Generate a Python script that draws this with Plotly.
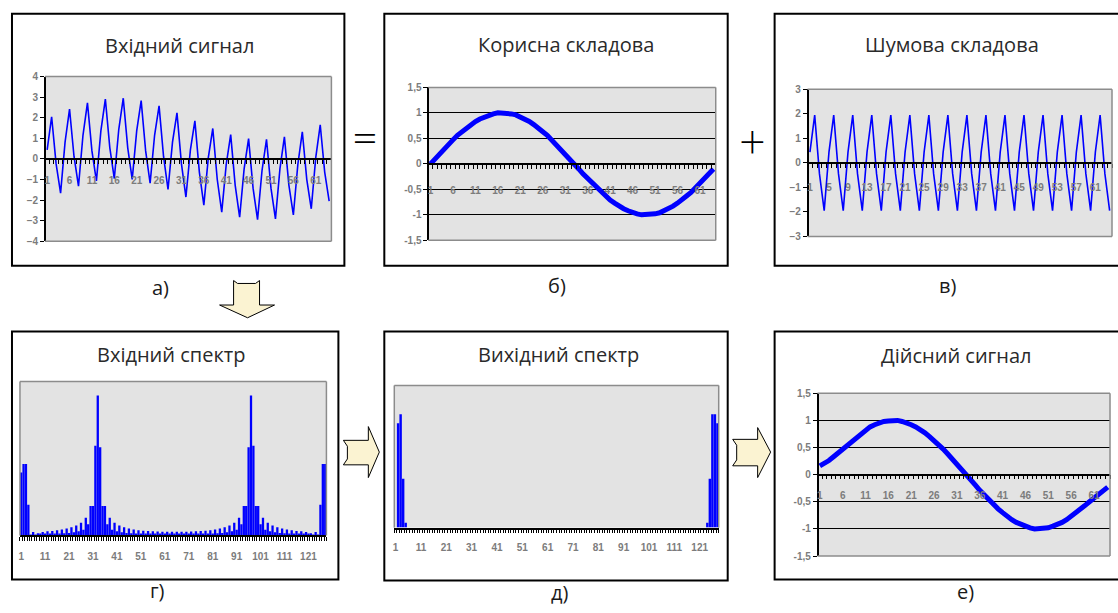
import plotly.graph_objects as go

W, H = 1118, 613


def fx(p):
    return p / W


def fy(p):
    return 1 - p / H


# ---------------- data ----------------
n64 = list(range(1, 65))
n128 = list(range(1, 129))

input_signal = [0.44, 2.05, -0.24, -1.66, 0.82, 2.42, 0.12, -1.32,
                1.15, 2.72, 0.39, -1.07, 1.36, 2.91, 0.54, -0.95,
                1.44, 2.95, 0.54, -0.99, 1.36, 2.83, 0.39, -1.18,
                1.15, 2.58, 0.12, -1.48, 0.82, 2.24, -0.24, -1.85,
                0.44, 1.85, -0.64, -2.24, 0.06, 1.48, -1.00, -2.58,
                -0.27, 1.18, -1.27, -2.83, -0.48, 0.99, -1.42, -2.95,
                -0.56, 0.95, -1.42, -2.91, -0.48, 1.07, -1.27, -2.72,
                -0.27, 1.32, -1.00, -2.42, 0.06, 1.66, -0.64, -2.05]

useful = [0.00, 0.10, 0.20, 0.29, 0.38, 0.47, 0.56, 0.63, 0.71, 0.77,
          0.83, 0.88, 0.92, 0.96, 0.98, 1.00, 1.00, 1.00, 0.98, 0.96,
          0.92, 0.88, 0.83, 0.77, 0.71, 0.63, 0.56, 0.47, 0.38, 0.29,
          0.20, 0.10, 0.00, -0.10, -0.20, -0.29, -0.38, -0.47, -0.56, -0.63,
          -0.71, -0.77, -0.83, -0.88, -0.92, -0.96, -0.98, -1.00, -1.00, -1.00,
          -0.98, -0.96, -0.92, -0.88, -0.83, -0.77, -0.71, -0.63, -0.56, -0.47,
          -0.38, -0.29, -0.20, -0.10]

noise = [0.44, 1.95, -0.44, -1.95, 0.44, 1.95, -0.44, -1.95,
         0.44, 1.95, -0.44, -1.95, 0.44, 1.95, -0.44, -1.95,
         0.44, 1.95, -0.44, -1.95, 0.44, 1.95, -0.44, -1.95,
         0.44, 1.95, -0.44, -1.95, 0.44, 1.95, -0.44, -1.95,
         0.44, 1.95, -0.44, -1.95, 0.44, 1.95, -0.44, -1.95,
         0.44, 1.95, -0.44, -1.95, 0.44, 1.95, -0.44, -1.95,
         0.44, 1.95, -0.44, -1.95, 0.44, 1.95, -0.44, -1.95,
         0.44, 1.95, -0.44, -1.95, 0.44, 1.95, -0.44, -1.95]

spectrum_in = [45, 51, 51, 22, 0.5, 2.5, 0.5, 1.5, 0.8, 2.5,
               0.8, 3.0, 1.0, 3.2, 1.0, 3.7, 1.2, 4.2, 1.5, 4.9,
               1.8, 5.8, 2.2, 7.1, 3.0, 9.1, 4.0, 12.7, 8.0, 21,
               21, 64, 100, 63, 21, 21, 8.0, 12.7, 4.0, 9.1,
               3.0, 7.1, 2.2, 5.8, 1.8, 4.9, 1.5, 4.2, 1.2, 3.7,
               1.0, 3.4, 1.0, 3.1, 0.8, 2.9, 0.8, 2.8, 0.8, 2.7,
               0.8, 2.7, 0.8, 2.7, 0.8, 2.7, 0.8, 2.7, 0.8, 2.7,
               0.8, 2.8, 0.8, 2.9, 0.8, 3.1, 1.0, 3.4, 1.0, 3.7,
               1.2, 4.2, 1.5, 4.9, 1.8, 5.8, 2.2, 7.1, 3.0, 9.1,
               4.0, 12.7, 8.0, 21, 21, 63, 100, 64, 21, 21,
               8.0, 12.7, 4.0, 9.1, 3.0, 7.1, 2.2, 5.8, 1.8, 4.9,
               1.5, 4.2, 1.2, 3.7, 1.0, 3.2, 1.0, 3.0, 0.8, 2.5,
               0.8, 1.5, 0.5, 2.5, 0.5, 22, 51, 51]

spectrum_out = ([0, 47, 51, 22, 2.2] + [0] * 118 + [2.2, 22, 51, 51, 47])

recovered = [0.16, 0.20, 0.26, 0.33, 0.40, 0.47, 0.55, 0.63, 0.70, 0.77,
             0.83, 0.88, 0.92, 0.96, 0.98, 0.99, 1.00, 1.00, 0.98, 0.96,
             0.92, 0.88, 0.83, 0.77, 0.70, 0.63, 0.55, 0.47, 0.38, 0.29,
             0.19, 0.10, 0.00, -0.10, -0.19, -0.29, -0.38, -0.47, -0.55, -0.63,
             -0.70, -0.77, -0.83, -0.88, -0.92, -0.96, -0.98, -1.00, -1.00, -0.99,
             -0.98, -0.95, -0.92, -0.88, -0.83, -0.77, -0.71, -0.64, -0.57, -0.50,
             -0.43, -0.36, -0.30, -0.23]

ticks_a = [1, 6, 11, 16, 21, 26, 31, 36, 41, 46, 51, 56, 61]
ticks_c = [1, 5, 9, 13, 17, 21, 25, 29, 33, 37, 41, 45, 49, 53, 57, 61]
ticks_spec = [1, 11, 21, 31, 41, 51, 61, 71, 81, 91, 101, 111, 121]
yticks_a = [-4, -3, -2, -1, 0, 1, 2, 3, 4]
yticks_c = [-3, -2, -1, 0, 1, 2, 3]
yticks_bf = [-1.5, -1, -0.5, 0, 0.5, 1, 1.5]
ytext_bf = ["-1,5", "-1", "-0,5", "0", "0,5", "1", "1,5"]

titles = ["Вхідний сигнал", "Корисна складова", "Шумова складова",
          "Вхідний спектр", "Вихідний спектр", "Дійсний сигнал"]
letters = ["а)", "б)", "в)", "г)", "д)", "е)"]

# ---------------- layout geometry (pixels) ----------------
PA = {
    "a": (43, 330, 72, 240),
    "b": (427, 715, 83, 239),
    "c": (807, 1112, 85, 235),
    "d": (18, 325, 383, 540),
    "e": (393, 718, 387, 532),
    "f": (817, 1110, 395, 561),
}
BOX = [(10, 343, 8, 265), (383, 727, 8, 265), (774, 1130, 8, 265),
       (10, 337, 332, 585), (383, 727, 332, 586), (774, 1130, 332, 585)]
TITLE_POS = [(178, 40), (565, 39), (952, 39), (169, 355), (557, 355), (956, 356)]
LETTER_POS = [(159, 287), (556, 285), (947, 285), (156, 596), (558, 598), (965, 597)]

tick_font = dict(family="Liberation Sans", size=10, color="#7c7c7c", weight="bold")
blue = "#0000FF"
plot_gray = "#E3E3E3"
border_gray = "#8C8C8C"

fig = go.Figure()
fig.add_trace(go.Scatter(x=n64, y=input_signal, mode="lines",
                         line=dict(color=blue, width=1.6), xaxis="x", yaxis="y"))
fig.add_trace(go.Scatter(x=n64, y=useful, mode="lines",
                         line=dict(color=blue, width=5), xaxis="x2", yaxis="y2"))
fig.add_trace(go.Scatter(x=n64, y=noise, mode="lines",
                         line=dict(color=blue, width=1.6), xaxis="x3", yaxis="y3"))
fig.add_trace(go.Bar(x=n128, y=spectrum_in, marker=dict(color=blue, line=dict(width=0)),
                     xaxis="x4", yaxis="y4"))
fig.add_trace(go.Bar(x=n128, y=spectrum_out, marker=dict(color=blue, line=dict(width=0)),
                     xaxis="x5", yaxis="y5"))
fig.add_trace(go.Scatter(x=n64, y=recovered, mode="lines",
                         line=dict(color=blue, width=5), xaxis="x6", yaxis="y6"))


def ydom(key):
    p = PA[key]
    return [fy(p[3]), fy(p[2])]


def xdom(key):
    p = PA[key]
    return [fx(p[0]), fx(p[1])]


def zero_pos(key, rng):
    d0, d1 = ydom(key)
    return d0 + (0 - rng[0]) / (rng[1] - rng[0]) * (d1 - d0)


def cat_axis(key, rng, tickvals, position=None, anchor=None, standoff=8):
    ax = dict(domain=xdom(key), range=rng, showline=True, linecolor="black",
              linewidth=1.5, tickmode="array", tickvals=tickvals, ticks="",
              showgrid=False, zeroline=False, tickfont=tick_font,
              ticklabelstandoff=standoff, fixedrange=True,
              minor=dict(ticks="outside", tickmode="linear", tick0=0.5, dtick=1,
                         ticklen=4, tickwidth=1, tickcolor="black", showgrid=False))
    if position is not None:
        ax["anchor"] = "free"
        ax["position"] = position
    else:
        ax["anchor"] = anchor
    return ax


def val_axis(key, rng, tickvals, ticktext=None, grid=False):
    ax = dict(domain=ydom(key), range=rng, anchor="free", position=fx(PA[key][0]),
              showline=True, linecolor="black", linewidth=1.5, ticks="outside",
              ticklen=4, tickcolor="black", tickmode="array", tickvals=tickvals,
              showgrid=grid, gridcolor="black", gridwidth=1, zeroline=False,
              tickfont=tick_font, fixedrange=True)
    if ticktext is not None:
        ax["ticktext"] = ticktext
    return ax


rng_a = [-4, 4]
rng_b = [-1.5, 1.5]
rng_c = [-3, 3]
rng_f = [-1.5, 1.5]

layout = dict(
    width=W, height=H, autosize=False,
    margin=dict(l=0, r=0, t=0, b=0, pad=0),
    paper_bgcolor="white", plot_bgcolor=plot_gray,
    showlegend=False, bargap=0.04,
    xaxis=cat_axis("a", [0.5, 64.5], ticks_a, position=zero_pos("a", rng_a), standoff=12),
    yaxis=val_axis("a", rng_a, yticks_a),
    xaxis2=cat_axis("b", [0.5, 64.5], ticks_a, position=zero_pos("b", rng_b), standoff=17),
    yaxis2=val_axis("b", rng_b, yticks_bf, ytext_bf, grid=True),
    xaxis3=cat_axis("c", [0.5, 64.5], ticks_c, position=zero_pos("c", rng_c), standoff=15),
    yaxis3=val_axis("c", rng_c, yticks_c),
    xaxis4=cat_axis("d", [0.5, 128.5], ticks_spec, anchor="y4", standoff=11),
    yaxis4=dict(domain=ydom("d"), range=[0, 110], anchor="x4", visible=False, fixedrange=True),
    xaxis5=cat_axis("e", [0.5, 128.5], ticks_spec, anchor="y5", standoff=10),
    yaxis5=dict(domain=ydom("e"), range=[0, 64], anchor="x5", visible=False, fixedrange=True),
    xaxis6=cat_axis("f", [0.5, 64.5], ticks_a, position=zero_pos("f", rng_f), standoff=12),
    yaxis6=val_axis("f", rng_f, yticks_bf, ytext_bf, grid=True),
)
fig.update_layout(**layout)

shapes = []


def hline(x0, x1, y, color, width):
    shapes.append(dict(type="line", xref="paper", yref="paper", x0=fx(x0), x1=fx(x1),
                       y0=fy(y), y1=fy(y), line=dict(color=color, width=width), layer="above"))


def vline(x, y0, y1, color, width):
    shapes.append(dict(type="line", xref="paper", yref="paper", x0=fx(x), x1=fx(x),
                       y0=fy(y0), y1=fy(y1), line=dict(color=color, width=width), layer="above"))


# plot-area borders (gray), leaving the black value axis visible
for key, (x0, x1, yt, yb) in PA.items():
    hline(x0, x1, yt, border_gray, 1.5)
    vline(x1, yt, yb, border_gray, 1.5)
    if key in ("d", "e"):
        vline(x0, yt, yb, border_gray, 1.5)
    else:
        hline(x0, x1, yb, border_gray, 1.5)

# outer panel boxes
for (x0, x1, yt, yb) in BOX:
    shapes.append(dict(type="rect", xref="paper", yref="paper", x0=fx(x0), x1=fx(x1),
                       y0=fy(yb), y1=fy(yt), line=dict(color="black", width=2),
                       fillcolor="rgba(0,0,0,0)", layer="above"))


def poly(points):
    d = "M " + " L ".join(f"{fx(x):.5f},{fy(y):.5f}" for x, y in points) + " Z"
    shapes.append(dict(type="path", xref="paper", yref="paper", path=d,
                       fillcolor="#FBF3D2", line=dict(color="black", width=1), layer="above"))


# down arrow (a -> d)
poly([(232, 280), (236, 283), (254, 283), (258, 280), (258, 305), (273, 305),
      (246, 318), (218, 305), (232, 305)])
# right arrow (d -> e)
poly([(342, 443), (367, 443), (367, 429), (378, 455), (367, 481), (367, 468),
      (342, 468), (346, 462), (346, 449)])
# right arrow (e -> f)
poly([(732, 442), (757, 442), (757, 430), (770, 455), (757, 481), (757, 469),
      (732, 469), (736, 463), (736, 448)])

fig.update_layout(shapes=shapes)

annotations = []
for t, (x, y) in zip(titles, TITLE_POS):
    annotations.append(dict(text=t, xref="paper", yref="paper", x=fx(x), y=fy(y),
                            xanchor="center", yanchor="middle", showarrow=False,
                            font=dict(family="Open Sans", size=20, color="#2a2a2a")))
for t, (x, y) in zip(letters, LETTER_POS):
    annotations.append(dict(text=t, xref="paper", yref="paper", x=fx(x), y=fy(y),
                            xanchor="center", yanchor="middle", showarrow=False,
                            font=dict(family="Open Sans", size=20, color="#1a1a1a")))
annotations.append(dict(text="=", xref="paper", yref="paper", x=fx(364), y=fy(132),
                        xanchor="center", yanchor="middle", showarrow=False,
                        font=dict(family="Lato", size=48, color="#000000", weight=300)))
annotations.append(dict(text="+", xref="paper", yref="paper", x=fx(752), y=fy(136),
                        xanchor="center", yanchor="middle", showarrow=False,
                        font=dict(family="Lato", size=46, color="#000000", weight=300)))
fig.update_layout(annotations=annotations)

fig.write_html("out.html", config={"displayModeBar": False},
               post_script="document.body.style.margin='0';document.body.style.overflow='hidden';")
